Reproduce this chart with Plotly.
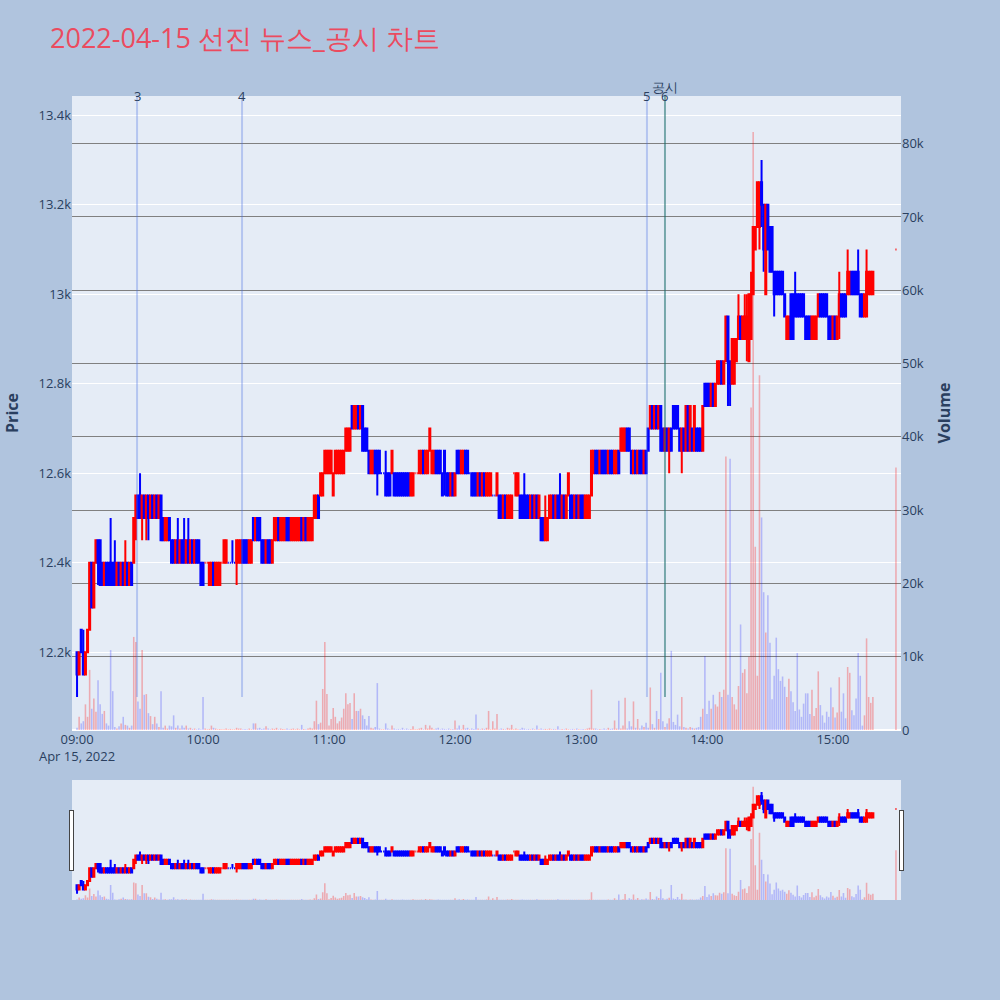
import pandas as pd
import plotly.graph_objects as go
from plotly.subplots import make_subplots

open_p = [
12200,12150,12250,12200,12150,12200,12250,12400,12300,12400,
12450,12450,12400,12350,12400,12400,12400,12400,12400,12350,
12400,12350,12400,12350,12400,12350,12400,12400,12500,12550,
12550,12500,12550,12500,12550,12500,12550,12500,12550,12500,
12550,12500,12450,12450,12500,12450,12450,12400,12450,12400,
12450,12450,12400,12450,12400,12450,12400,12450,12450,12400,
12400,12400,12400,12350,12350,12400,12350,12350,12350,12400,
12400,12400,12400,12400,12400,12400,12400,12400,12400,12450,
12450,12450,12400,12400,12500,12450,12500,12500,12450,12450,
12400,12450,12450,12400,12450,12450,12500,12450,12450,12450,
12500,12500,12450,12450,12450,12450,12450,12500,12450,12500,
12450,12450,12450,12500,12500,12550,12550,12550,12600,12600,
12600,12600,12550,12600,12600,12600,12600,12600,12650,12650,
12650,12750,12700,12700,12750,12700,12750,12700,12700,12650,
12600,12600,12650,12650,12650,12600,12600,12600,12600,12600,
12600,12600,12600,12600,12600,12600,12600,12600,12600,12550,
12550,12600,12600,12600,12600,12650,12600,12600,12650,12600,
12600,12650,12650,12650,12600,12650,12600,12600,12550,12600,
12550,12650,12650,12600,12600,12650,12650,12600,12600,12600,
12600,12550,12600,12550,12600,12550,12550,12550,12550,12550,
12550,12550,12550,12500,12550,12500,12500,12500,12600,12550,
12550,12550,12550,12550,12550,12550,12500,12550,12500,12550,
12500,12500,12500,12450,12450,12500,12500,12550,12500,12550,
12550,12500,12550,12500,12550,12550,12550,12500,12550,12500,
12550,12550,12500,12500,12500,12550,12600,12650,12650,12600,
12650,12650,12650,12600,12650,12650,12600,12600,12650,12650,
12650,12650,12700,12700,12650,12600,12650,12600,12650,12650,
12600,12650,12700,12700,12750,12700,12750,12700,12750,12700,
12650,12700,12650,12700,12750,12750,12750,12700,12650,12700,
12650,12750,12650,12700,12650,12700,12700,12700,12650,12800,
12800,12800,12750,12800,12750,12800,12800,12850,12800,12850,
12950,12850,12800,12800,12850,12900,12950,12900,12900,12900,
12850,12900,13000,13100,13150,13150,13250,13200,13000,13200,
13150,13150,13050,13050,13050,13050,13050,13000,12900,12900,
13000,13000,13000,13000,13000,13000,13000,12950,12950,12950,
12900,12900,12900,12950,13000,13000,13000,13000,12950,12950,
12900,12950,12900,12950,13000,13000,13000,13000,13000,13050,
13050,13050,13050,13000,13000,12950,12950,13000,13000,13000,
13100]

high_p = [
12200,12200,12250,12250,12200,12250,12400,12400,12400,12450,
12450,12450,12400,12400,12400,12400,12500,12400,12450,12400,
12400,12400,12400,12450,12400,12400,12400,12500,12550,12550,
12600,12550,12550,12550,12550,12550,12550,12550,12550,12550,
12550,12500,12500,12500,12500,12450,12450,12450,12500,12450,
12450,12500,12450,12500,12450,12450,12450,12450,12450,12400,
12400,12400,12400,12400,12400,12400,12400,12400,12400,12400,
12450,12450,12400,12400,12450,12400,12450,12450,12450,12450,
12450,12450,12450,12450,12500,12500,12500,12500,12450,12450,
12450,12450,12450,12450,12500,12500,12500,12500,12500,12500,
12500,12500,12500,12500,12500,12500,12500,12500,12500,12500,
12500,12500,12500,12550,12550,12550,12600,12600,12650,12650,
12650,12650,12600,12650,12650,12650,12650,12650,12700,12700,
12700,12750,12750,12750,12750,12750,12750,12700,12700,12650,
12650,12650,12650,12650,12650,12600,12600,12650,12600,12600,
12650,12600,12600,12600,12600,12600,12600,12600,12600,12600,
12600,12600,12600,12650,12650,12650,12650,12650,12700,12650,
12650,12650,12650,12650,12600,12650,12600,12600,12600,12600,
12600,12650,12650,12650,12650,12650,12650,12600,12600,12600,
12600,12600,12600,12600,12600,12600,12600,12600,12550,12550,
12600,12550,12550,12550,12550,12550,12550,12550,12600,12600,
12600,12550,12550,12600,12550,12550,12550,12550,12550,12550,
12550,12500,12500,12550,12500,12550,12550,12550,12550,12550,
12600,12550,12550,12550,12600,12550,12550,12550,12550,12550,
12550,12550,12550,12550,12550,12650,12650,12650,12650,12650,
12650,12650,12650,12650,12650,12650,12650,12650,12650,12700,
12700,12700,12700,12700,12650,12650,12650,12650,12650,12650,
12650,12650,12700,12750,12750,12750,12750,12750,12750,12700,
12700,12700,12700,12700,12750,12750,12750,12700,12700,12700,
12750,12750,12750,12700,12750,12700,12700,12700,12750,12800,
12800,12800,12800,12800,12800,12850,12850,12850,12850,12950,
12950,12850,12900,12900,12900,13000,12950,12950,13000,13000,
13000,13050,13150,13150,13250,13250,13300,13200,13200,13200,
13150,13150,13050,13050,13050,13050,13050,13000,12950,12950,
13000,13000,13050,13000,13000,13000,13000,12950,12950,12950,
12950,12950,12950,13000,13000,13000,13000,13000,12950,12950,
12950,12950,12950,13050,13000,13000,13000,13100,13050,13050,
13050,13050,13100,13000,13000,13000,13100,13050,13050,13050,
13100]

low_p = [
12100,12150,12200,12150,12150,12200,12250,12300,12300,12400,
12350,12350,12350,12350,12350,12350,12350,12350,12350,12350,
12350,12350,12350,12350,12350,12350,12350,12400,12450,12500,
12500,12450,12500,12450,12450,12500,12500,12500,12500,12500,
12450,12450,12450,12450,12450,12400,12400,12400,12400,12400,
12400,12400,12400,12400,12400,12400,12400,12400,12400,12350,
12350,12400,12400,12350,12350,12350,12350,12350,12350,12400,
12400,12400,12400,12400,12400,12400,12350,12400,12400,12400,
12400,12400,12400,12400,12450,12450,12450,12450,12400,12400,
12400,12400,12400,12400,12450,12450,12450,12450,12450,12450,
12450,12450,12450,12450,12450,12450,12450,12450,12450,12450,
12450,12450,12450,12500,12500,12500,12550,12550,12600,12600,
12600,12600,12550,12600,12600,12600,12600,12600,12650,12650,
12650,12700,12700,12700,12700,12700,12650,12650,12650,12600,
12600,12600,12600,12550,12600,12600,12600,12550,12550,12550,
12600,12550,12550,12550,12550,12550,12550,12550,12550,12550,
12550,12600,12600,12600,12600,12600,12600,12600,12650,12600,
12600,12600,12600,12600,12550,12550,12550,12550,12550,12550,
12550,12600,12600,12600,12600,12600,12600,12600,12550,12550,
12550,12550,12550,12550,12550,12550,12550,12550,12550,12550,
12550,12500,12500,12500,12500,12500,12500,12500,12600,12550,
12550,12500,12500,12500,12500,12500,12500,12500,12500,12500,
12500,12450,12450,12450,12450,12500,12500,12500,12500,12500,
12500,12500,12500,12500,12550,12500,12500,12500,12500,12500,
12500,12500,12500,12500,12500,12550,12600,12600,12600,12600,
12600,12600,12600,12600,12600,12600,12600,12600,12600,12650,
12650,12650,12650,12650,12600,12600,12600,12600,12600,12600,
12600,12600,12650,12700,12700,12700,12700,12700,12650,12650,
12650,12650,12600,12650,12700,12700,12700,12650,12600,12650,
12650,12650,12650,12650,12650,12650,12650,12650,12650,12750,
12750,12750,12750,12750,12750,12800,12800,12800,12800,12850,
12750,12750,12800,12800,12850,12900,12900,12900,12900,12850,
12850,12900,13000,13100,13150,13100,13150,13050,13000,13100,
13050,13050,12950,13000,13000,13000,13000,12950,12900,12900,
12900,12900,12950,12950,12950,12950,12950,12900,12900,12900,
12900,12900,12900,12950,12950,12950,12950,12950,12900,12900,
12900,12900,12900,12900,12950,12950,12950,13000,13000,13000,
13000,13000,13000,12950,12950,12950,12950,13000,13000,13000,
13100]

close_p = [
12150,12200,12200,12150,12200,12250,12400,12300,12400,12450,
12400,12350,12350,12400,12350,12350,12350,12350,12350,12400,
12350,12400,12350,12400,12350,12400,12350,12500,12550,12500,
12500,12550,12500,12550,12500,12550,12500,12550,12500,12550,
12450,12450,12500,12500,12450,12400,12400,12450,12400,12450,
12400,12400,12450,12400,12450,12400,12450,12400,12400,12350,
12350,12400,12400,12400,12400,12350,12400,12400,12400,12400,
12450,12450,12400,12400,12400,12400,12450,12450,12450,12400,
12400,12400,12450,12450,12450,12500,12450,12450,12400,12400,
12450,12400,12400,12450,12500,12500,12450,12500,12500,12500,
12450,12450,12500,12500,12500,12500,12500,12450,12500,12450,
12500,12500,12500,12550,12550,12500,12600,12600,12650,12650,
12650,12650,12600,12650,12650,12650,12650,12650,12700,12700,
12700,12700,12750,12750,12700,12750,12650,12650,12650,12600,
12650,12650,12600,12600,12600,12600,12600,12550,12550,12550,
12650,12550,12550,12550,12550,12550,12550,12550,12550,12600,
12600,12600,12600,12650,12650,12600,12650,12650,12700,12650,
12650,12600,12600,12600,12550,12600,12550,12550,12600,12550,
12600,12600,12600,12650,12650,12600,12600,12600,12550,12550,
12550,12600,12550,12600,12550,12600,12600,12600,12550,12550,
12600,12500,12500,12550,12500,12550,12550,12550,12600,12600,
12600,12500,12500,12500,12500,12500,12550,12500,12550,12500,
12550,12450,12450,12500,12500,12550,12550,12500,12550,12500,
12500,12550,12500,12550,12600,12500,12500,12550,12500,12550,
12500,12500,12550,12550,12550,12650,12650,12600,12600,12650,
12600,12600,12600,12650,12600,12600,12650,12650,12600,12700,
12700,12700,12650,12650,12600,12650,12600,12650,12600,12600,
12650,12600,12650,12750,12700,12750,12700,12750,12650,12650,
12700,12650,12700,12650,12700,12700,12700,12650,12700,12650,
12750,12650,12750,12650,12750,12650,12650,12650,12750,12750,
12750,12750,12800,12750,12800,12850,12850,12800,12850,12950,
12850,12800,12900,12900,12900,12950,12900,12950,12950,12950,
13000,13000,13150,13150,13250,13250,13200,13100,13200,13100,
13050,13050,13000,13000,13000,13000,13000,12950,12950,12950,
12900,12900,12950,12950,12950,12950,12950,12900,12900,12900,
12950,12950,12950,13000,12950,12950,12950,12950,12900,12900,
12950,12900,12950,13000,12950,12950,12950,13050,13050,13000,
13000,13000,13000,12950,12950,13000,13050,13050,13050,13050,
13100]

volume = [
300,1800,900,1200,3500,1800,8200,2900,4300,2500,
6800,3500,2200,2600,900,600,10900,5300,400,200,
500,900,1800,700,600,300,600,12700,12000,3900,
2900,10900,4800,4900,2300,1900,800,1800,900,400,
5300,300,600,200,600,500,2000,300,600,200,
600,300,600,200,300,150,200,100,200,100,
4500,200,100,150,600,300,200,100,150,100,
100,200,100,150,100,100,300,200,200,100,
150,100,200,100,900,900,200,300,150,200,
500,200,100,200,150,300,100,200,150,100,
200,100,150,200,100,200,100,700,150,100,
200,300,200,1200,4000,800,1000,5600,12000,4900,
600,1500,3000,1800,900,1200,1700,2900,5000,3500,
3700,1500,5000,2600,2600,2900,2000,1500,600,1900,
300,200,400,6400,200,100,100,900,200,100,
600,200,100,150,100,300,100,200,100,150,
500,100,100,200,300,100,700,200,600,300,
100,200,300,100,200,150,100,200,100,150,
1300,200,600,100,700,200,300,100,200,150,
2100,200,100,200,150,300,2600,100,1200,200,
2200,100,200,150,100,300,200,700,100,200,
100,150,300,200,100,150,100,200,100,600,
100,200,100,150,100,200,100,150,100,500,
100,150,100,200,100,100,150,100,200,100,
100,150,100,200,300,5500,200,200,100,150,
100,200,100,300,150,200,1300,200,4000,200,
600,4400,200,1200,500,3900,300,1500,200,600,
400,1000,300,5800,800,300,2600,1500,7800,1200,
400,900,1600,10800,1100,700,2100,500,4500,400,
300,200,400,300,200,300,400,1800,2900,10100,
2200,4000,2900,4800,3500,3200,5200,4500,5500,37300,
4800,37000,4500,3500,2800,6000,14400,7800,8300,5000,
10000,44000,81600,25000,7400,48400,29000,18800,13300,18400,
11900,4200,7400,12600,8300,6700,7300,5900,4500,7000,
5300,3800,2600,10500,2800,1800,3600,5000,5000,2200,
5500,1900,3000,8000,3400,2000,1000,2500,1800,5800,
3100,1700,2400,7200,2500,5000,1600,8600,7800,2700,
2000,4300,10500,7400,600,2000,12500,4500,3700,4500,
35800]

session_start = "2022-04-15 09:00"
n_session = 380
closing_auction = "2022-04-15 15:30"

news_times = ["2022-04-15 09:28:35", "2022-04-15 10:18:35",
              "2022-04-15 13:31:25", "2022-04-15 13:40:00"]
news_labels = ["3", "4", "5", "6"]
disclosure_time = "2022-04-15 13:40:00"
disclosure_label = "공시"

times = list(pd.date_range(session_start, periods=n_session, freq="min")) + [pd.Timestamp(closing_auction)]
n = len(times)
for arr in (open_p, high_p, low_p, close_p, volume):
    assert len(arr) == n, (len(open_p), len(high_p), len(low_p), len(close_p), len(volume), n)

vol_colors = ["rgba(255,0,0,0.28)" if c >= o else "rgba(0,0,255,0.22)" for o, c in zip(open_p, close_p)]

fig = make_subplots(specs=[[{"secondary_y": True}]])
fig.add_trace(go.Candlestick(
    x=times, open=open_p, high=high_p, low=low_p, close=close_p,
    increasing=dict(line=dict(color="red"), fillcolor="red"),
    decreasing=dict(line=dict(color="blue"), fillcolor="blue"),
    name="Price", showlegend=False), secondary_y=False)
fig.add_trace(go.Bar(x=times, y=volume, marker=dict(color=vol_colors, line=dict(width=0)),
                     name="Volume", showlegend=False), secondary_y=True)

y_lo, y_hi = 12026, 13443
day_low = min(low_p)
for t, lab in zip(news_times, news_labels):
    fig.add_shape(type="line", x0=t, x1=t, y0=day_low, y1=y_hi, xref="x", yref="y",
                  line=dict(color="rgba(65,105,225,0.3)", width=2))
    fig.add_annotation(x=t, y=1, xref="x", yref="paper", text=lab, showarrow=False,
                       yanchor="middle", font=dict(size=13, color="#2a3f5f"))
fig.add_shape(type="line", x0=disclosure_time, x1=disclosure_time, y0=day_low, y1=y_hi,
              xref="x", yref="y", line=dict(color="rgba(0,110,40,0.45)", width=1.5))
fig.add_annotation(x=disclosure_time, y=1, xref="x", yref="paper", text=disclosure_label,
                   showarrow=False, yanchor="bottom", yshift=-2, font=dict(size=13, color="#2a3f5f"))

fig.update_layout(
    width=1000, height=1000,
    title=dict(text="2022-04-15 선진 뉴스_공시 차트", font=dict(size=27, color="rgb(235,75,95)")),
    font=dict(size=13),
    paper_bgcolor="lightsteelblue",
    margin=dict(l=72, r=99, t=96, b=270, autoexpand=False),
    bargap=0.25,
    showlegend=False,
    xaxis=dict(domain=[0, 1],
               range=[pd.Timestamp("2022-04-15 08:57:36"), pd.Timestamp("2022-04-15 15:32:24")],
               rangeslider=dict(visible=True, thickness=0.19), showgrid=False),
)
fig.update_yaxes(title_text="<b>Price</b>", range=[y_lo, y_hi], secondary_y=False)
fig.update_yaxes(title_text="<b>Volume</b>", range=[0, 86500], gridcolor="gray",
                 secondary_y=True)
fig.write_html("out.html", config={"displayModeBar": False},
               post_script="document.body.style.margin='0';")
